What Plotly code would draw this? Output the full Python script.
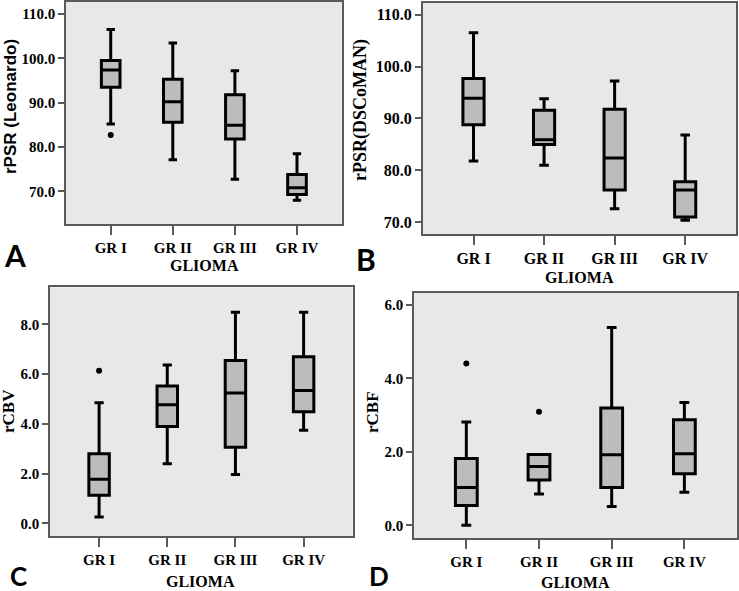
import plotly.graph_objects as go

W, H = 739, 591

grades = ['GR I', 'GR II', 'GR III', 'GR IV']

# A: rPSR (Leonardo)
a_low = [85.2, 77.1, 72.7, 68.0]
a_q1 = [93.5, 85.6, 81.8, 69.3]
a_med = [97.4, 90.2, 84.9, 70.8]
a_q3 = [99.5, 95.3, 91.8, 73.8]
a_high = [106.5, 103.5, 97.2, 78.5]
a_out_x = ['GR I']
a_out_y = [82.7]

# B: rPSR(DSCoMAN)
b_low = [81.8, 81.0, 72.6, 70.4]
b_q1 = [88.8, 85.0, 76.2, 71.0]
b_med = [93.9, 85.9, 82.4, 76.2]
b_q3 = [97.7, 91.6, 91.8, 77.8]
b_high = [106.5, 93.8, 97.2, 86.8]
b_out_x = []
b_out_y = []

# C: rCBV
c_low = [0.25, 2.40, 1.96, 3.74]
c_q1 = [1.13, 3.89, 3.06, 4.49]
c_med = [1.77, 4.77, 5.24, 5.34]
c_q3 = [2.80, 5.52, 6.55, 6.70]
c_high = [4.85, 6.37, 8.49, 8.49]
c_out_x = ['GR I']
c_out_y = [6.13]

# D: rCBF
d_low = [0.0, 0.85, 0.51, 0.90]
d_q1 = [0.54, 1.23, 1.03, 1.40]
d_med = [1.03, 1.60, 1.92, 1.95]
d_q3 = [1.82, 1.93, 3.19, 2.87]
d_high = [2.81, 1.93, 5.38, 3.34]
d_out_x = ['GR I', 'GR II']
d_out_y = [4.40, 3.09]

serif = 'Liberation Serif'
sans = 'Liberation Sans'
box_fill = '#bcbcbc'
bg = '#e8e8e8'
frame = '#5a5a5a'


def px_x(v):
    return v / W


def px_y(v):
    return 1 - v / H


panels = [
    # name, data, frame px (l, t, r, b), y range, ticks, tick font size
    ('', (a_low, a_q1, a_med, a_q3, a_high, a_out_x, a_out_y),
     (66, 1.7, 341.7, 224.3), [62.55, 112.8], [70, 80, 90, 100, 110], 15),
    ('2', (b_low, b_q1, b_med, b_q3, b_high, b_out_x, b_out_y),
     (422.7, 2.7, 736, 234.3), [67.69, 112.3], [70, 80, 90, 100, 110], 16),
    ('3', (c_low, c_q1, c_med, c_q3, c_high, c_out_x, c_out_y),
     (50, 287.3, 352.7, 536), [-0.51, 9.49], [0, 2, 4, 6, 8], 15),
    ('4', (d_low, d_q1, d_med, d_q3, d_high, d_out_x, d_out_y),
     (414, 292.7, 736.7, 538.3), [-0.354, 6.33], [0, 2, 4, 6], 15),
]

fig = go.Figure()
layout = {}

for name, data, fr, yr, ticks, fs in panels:
    low, q1, med, q3, high, ox, oy = data
    fig.add_trace(go.Box(
        x=grades, q1=q1, median=med, q3=q3, lowerfence=low, upperfence=high,
        boxpoints=False, width=0.3, whiskerwidth=0.45,
        fillcolor=box_fill, line=dict(color='black', width=3),
        xaxis='x' + name, yaxis='y' + name, showlegend=False,
    ))
    if ox:
        fig.add_trace(go.Scatter(
            x=ox, y=oy, mode='markers',
            marker=dict(color='black', size=6),
            xaxis='x' + name, yaxis='y' + name, showlegend=False,
        ))
    l, t, r, b = fr
    tfont = dict(family=serif, size=fs, color='black', weight='bold')
    layout['xaxis' + name] = dict(
        domain=[px_x(l), px_x(r)], anchor='y' + name,
        range=[-0.72, 3.72], type='category', categoryorder='array',
        categoryarray=grades, showgrid=False, zeroline=False,
        showline=True, mirror=True, linecolor=frame, linewidth=1.5,
        ticks='outside', ticklen=9, tickcolor=frame, tickwidth=1.5,
        tickfont=tfont,
    )
    layout['yaxis' + name] = dict(
        domain=[px_y(b), px_y(t)], anchor='x' + name,
        range=yr, tickvals=ticks, ticktext=['%.1f' % v for v in ticks],
        showgrid=False, zeroline=False,
        showline=True, mirror=True, linecolor=frame, linewidth=1.5,
        ticks='outside', ticklen=6, tickcolor=frame, tickwidth=1.5,
        tickfont=tfont,
    )

annotations = []


def note(text, x, y, family, size, angle=0, box=None):
    ann = dict(
        text=text, x=px_x(x), y=px_y(y), xref='paper', yref='paper',
        showarrow=False, textangle=angle, xanchor='center', yanchor='middle',
        font=dict(family=family, size=size, color='black'),
    )
    if box:
        ann['height'] = box
    annotations.append(ann)


# axis titles
note('<b>rPSR (Leonardo)</b>', 10, 107, sans, 17, -90)
note('<b>rPSR(DSCoMAN)</b>', 360, 110, serif, 18, -90)
note('<b>rCBV</b>', 8, 411, serif, 17, -90)
note('<b>rCBF</b>', 372, 412, serif, 17, -90)
note('<b>GLIOMA</b>', 204, 265, serif, 16)
note('<b>GLIOMA</b>', 579, 277, serif, 16)
note('<b>GLIOMA</b>', 201, 581, serif, 16, box=18)
note('<b>GLIOMA</b>', 575, 582, serif, 16, box=18)

# panel letters
note('<b>A</b>', 15, 255, 'Lato', 30)
note('<b>B</b>', 366, 259, 'Lato', 30)
note('<b>C</b>', 18, 576, 'Lato', 26, box=22)
note('<b>D</b>', 379, 576, 'Lato', 26, box=22)

fig.update_layout(
    width=W, height=H,
    margin=dict(l=0, r=0, t=0, b=0),
    paper_bgcolor='white', plot_bgcolor=bg,
    annotations=annotations,
    **layout,
)

# the page body has a default 8px margin; drop it so pixels line up
fig.write_html("out.html", config={'displayModeBar': False},
               post_script="document.body.style.margin='0';")
